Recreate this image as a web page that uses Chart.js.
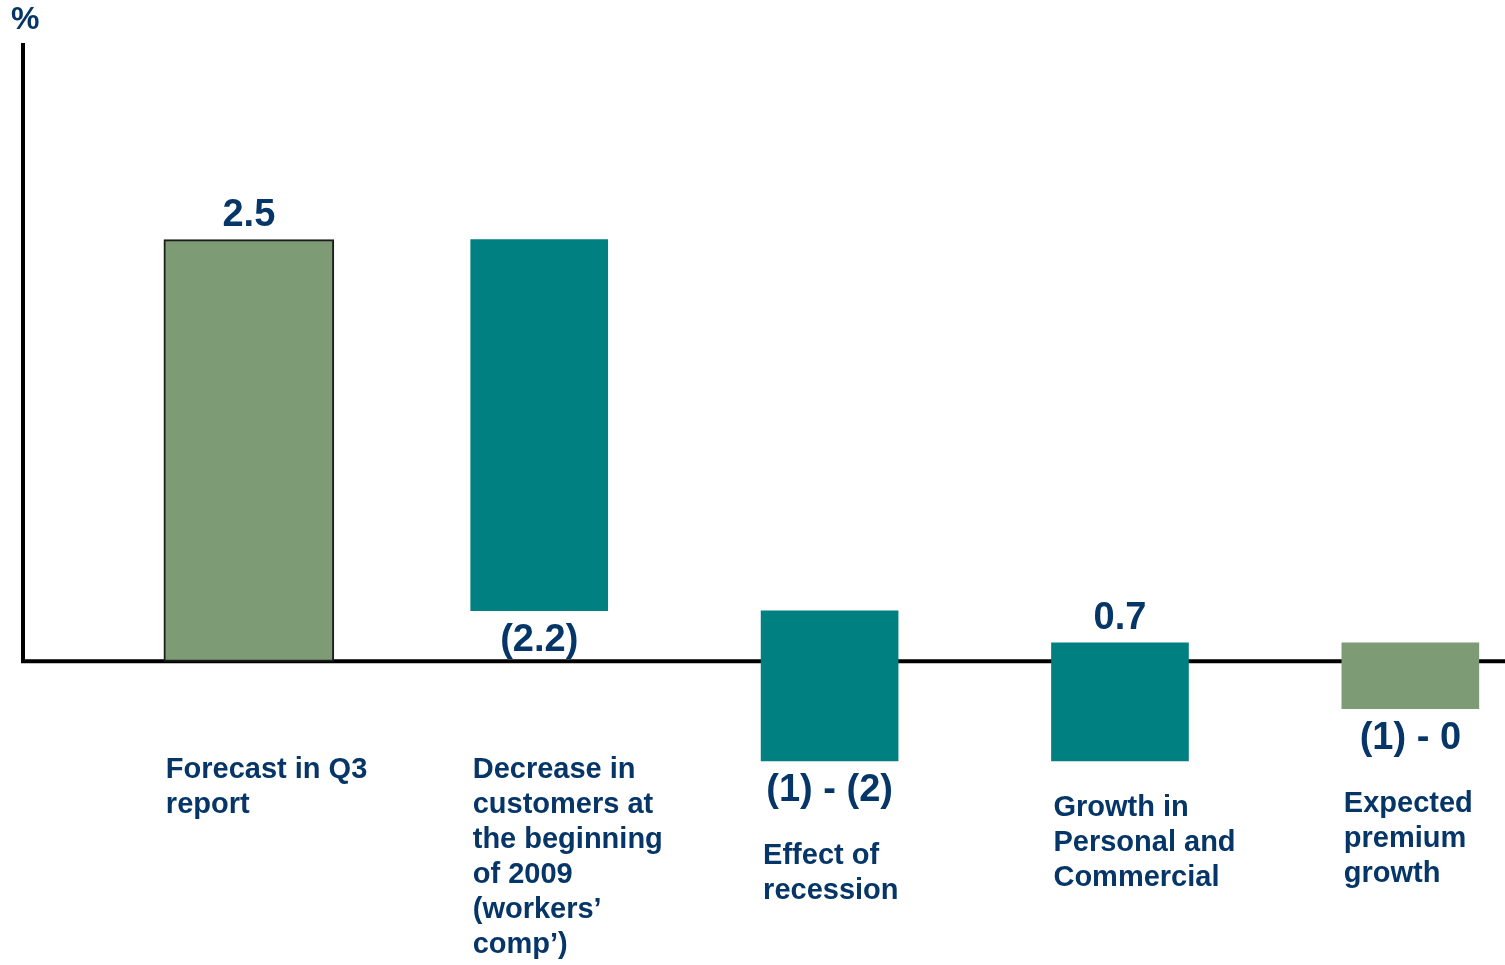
<!DOCTYPE html>
<html>
<head>
<meta charset="utf-8">
<title>Premium growth bridge</title>
<script src="https://cdn.jsdelivr.net/npm/chart.js@4.4.1/dist/chart.umd.min.js"></script>
<style>
  html, body { margin: 0; padding: 0; background: #fff; overflow: hidden; }
  canvas { display: block; }
</style>
</head>
<body>
<canvas id="bridge-chart" width="1505" height="965"></canvas>
<script>
// bridge steps, each bar runs from its start to its end value (%)
var categories = [
	["Forecast in Q3", "report"],
	["Decrease in", "customers at", "the beginning", "of 2009", "(workers\u2019", "comp\u2019)"],
	["Effect of", "recession"],
	["Growth in", "Personal and", "Commercial"],
	["Expected", "premium", "growth"]
];
var barStart = [0, 2.5, 0.3, -0.59, 0.11];
var barEnd = [2.5, 0.3, -0.59, 0.11, -0.28];
var valueLabels = ["2.5", "(2.2)", "(1) - (2)", "0.7", "(1) - 0"];

var barColors = ["#7d9b75", "#008080", "#008080", "#008080", "#7d9b75"];
var textColor = "#063567";
var fontFamily = '"Liberation Sans", Arial, sans-serif';

function points(from, to) {
	var out = [];
	for (var i = from; i < to; i++) {
		out.push({ x: i, y: [barStart[i], barEnd[i]] });
	}
	return out;
}

// axis lines, unit label, value and category labels
var bridgeDecor = {
	id: "bridgeDecor",
	beforeDatasetsDraw: function (chart) {
		var ctx = chart.ctx;
		var zero = chart.scales.y.getPixelForValue(0);
		ctx.save();
		ctx.strokeStyle = "#000";
		ctx.lineWidth = 4;
		ctx.beginPath();
		ctx.moveTo(23, 43);
		ctx.lineTo(23, zero + 2);
		ctx.moveTo(21, zero);
		ctx.lineTo(chart.width, zero);
		ctx.stroke();

		ctx.fillStyle = textColor;
		ctx.font = "bold 32px " + fontFamily;
		ctx.textAlign = "left";
		ctx.textBaseline = "alphabetic";
		ctx.fillText("%", 11, 29);
		ctx.restore();
	},
	afterDatasetsDraw: function (chart) {
		var ctx = chart.ctx;
		var zero = chart.scales.y.getPixelForValue(0);
		var bars = [];
		chart.data.datasets.forEach(function (ds, di) {
			chart.getDatasetMeta(di).data.forEach(function (el, j) {
				bars[ds.data[j].x] = el;
			});
		});

		ctx.save();
		ctx.fillStyle = textColor;
		ctx.textBaseline = "alphabetic";
		for (var i = 0; i < bars.length; i++) {
			var p = bars[i].getProps(["x", "y", "base", "width"], true);
			var top = Math.min(p.y, p.base);
			var bottom = Math.max(p.y, p.base);
			var left = p.x - p.width / 2;
			var lowest = bottom;

			ctx.font = "bold 38px " + fontFamily;
			ctx.textAlign = "center";
			if (barEnd[i] > barStart[i]) {
				ctx.fillText(valueLabels[i], p.x, top - 14);
			} else {
				ctx.fillText(valueLabels[i], p.x, bottom + 40);
				lowest = bottom + 48;
			}

			var capTop = Math.max(zero + 96, lowest + 34);
			ctx.font = "bold 29px " + fontFamily;
			ctx.textAlign = "left";
			for (var k = 0; k < categories[i].length; k++) {
				ctx.fillText(categories[i][k], left + 2, capTop + 21 + k * 35);
			}
		}
		ctx.restore();
	}
};

var ctx1 = document.getElementById("bridge-chart");

var chart1 = new Chart(ctx1, {
	type: "bar",
	data: {
		datasets: [
			{
				label: "Forecast",
				data: points(0, 1),
				backgroundColor: barColors[0],
				borderColor: "#1b1b1b",
				borderWidth: 2,
				borderSkipped: false,
				barThickness: 170,
				grouped: false
			},
			{
				label: "Changes",
				data: points(1, categories.length),
				backgroundColor: barColors.slice(1),
				borderWidth: 0,
				barThickness: 137,
				grouped: false
			}
		]
	},
	options: {
		responsive: false,
		animation: false,
		layout: { padding: 0 },
		plugins: {
			legend: { display: false },
			tooltip: { enabled: false }
		},
		scales: {
			x: { type: "linear", display: false, offset: false, min: -0.857, max: 4.326 },
			y: { display: false, min: -1.8, max: 3.92 }
		}
	},
	plugins: [bridgeDecor]
});
</script>
</body>
</html>
